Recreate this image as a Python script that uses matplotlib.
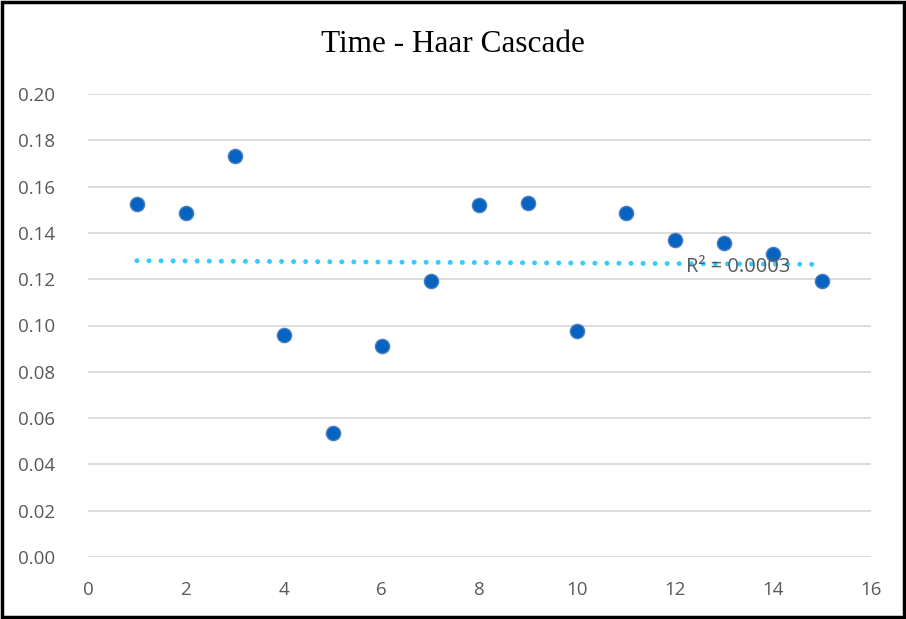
import matplotlib

matplotlib.use("Agg")
import matplotlib.pyplot as plt
import numpy as np
from matplotlib.patches import Rectangle

TITLE = "Time - Haar Cascade"
RUNS = [1, 2, 3, 4, 5, 6, 7, 8, 9, 10, 11, 12, 13, 14, 15]
TIMES = [0.1525, 0.1486, 0.1732, 0.0959, 0.0536, 0.0911, 0.1192, 0.1521,
         0.1529, 0.0976, 0.1486, 0.1369, 0.1356, 0.1309, 0.1192]
R2_LABEL = "R² = 0.0003"

GRID = "#d9d9d9"
TEXT = "#595959"
POINT = "#0563c1"
TREND = "#33ccff"

fig = plt.figure(figsize=(9.06, 6.19), dpi=100)
ax = fig.add_axes([88 / 906, 1 - 557 / 619, (871 - 88) / 906, (557 - 94) / 619])

# linear trendline over the data range
slope, intercept = np.polyfit(RUNS, TIMES, 1)
xs = np.array([RUNS[0], RUNS[-1]])
ax.plot(xs, slope * xs + intercept, color=TREND, lw=3.6,
        linestyle=(0, (0.01, 2.4)), dash_capstyle="round", zorder=2)

ax.scatter(RUNS, TIMES, s=105, color=POINT, edgecolor="#4f7fc0", linewidth=1.0, zorder=3)

ax.text(12.22, 0.1252, R2_LABEL, color=TEXT, fontsize=14.5, family="Open Sans",
        va="center", ha="left", zorder=4)

ax.set_xlim(0, 16)
ax.set_ylim(0, 0.20)
ax.set_xticks(range(0, 17, 2))
ax.set_yticks(np.arange(0, 0.201, 0.02))
ax.set_yticklabels([f"{v:.2f}" for v in np.arange(0, 0.201, 0.02)])
ax.yaxis.grid(True, color=GRID, lw=1.3)
ax.set_axisbelow(True)
for s in ax.spines.values():
    s.set_visible(False)
ax.tick_params(length=0, colors=TEXT, labelsize=13.5)
ax.tick_params(axis="x", pad=17)
ax.tick_params(axis="y", pad=24)
for lbl in ax.get_xticklabels() + ax.get_yticklabels():
    lbl.set_family("Open Sans")
    lbl.set_color(TEXT)

fig.text(0.5, 1 - 44 / 619, TITLE, ha="center", va="center",
         family="Liberation Serif", fontsize=22.5, color="black")

fig.patches.append(Rectangle((0.002, 0.003), 0.996, 0.994, transform=fig.transFigure,
                             fill=False, edgecolor="black", lw=2.5))

fig.savefig("out.png")
